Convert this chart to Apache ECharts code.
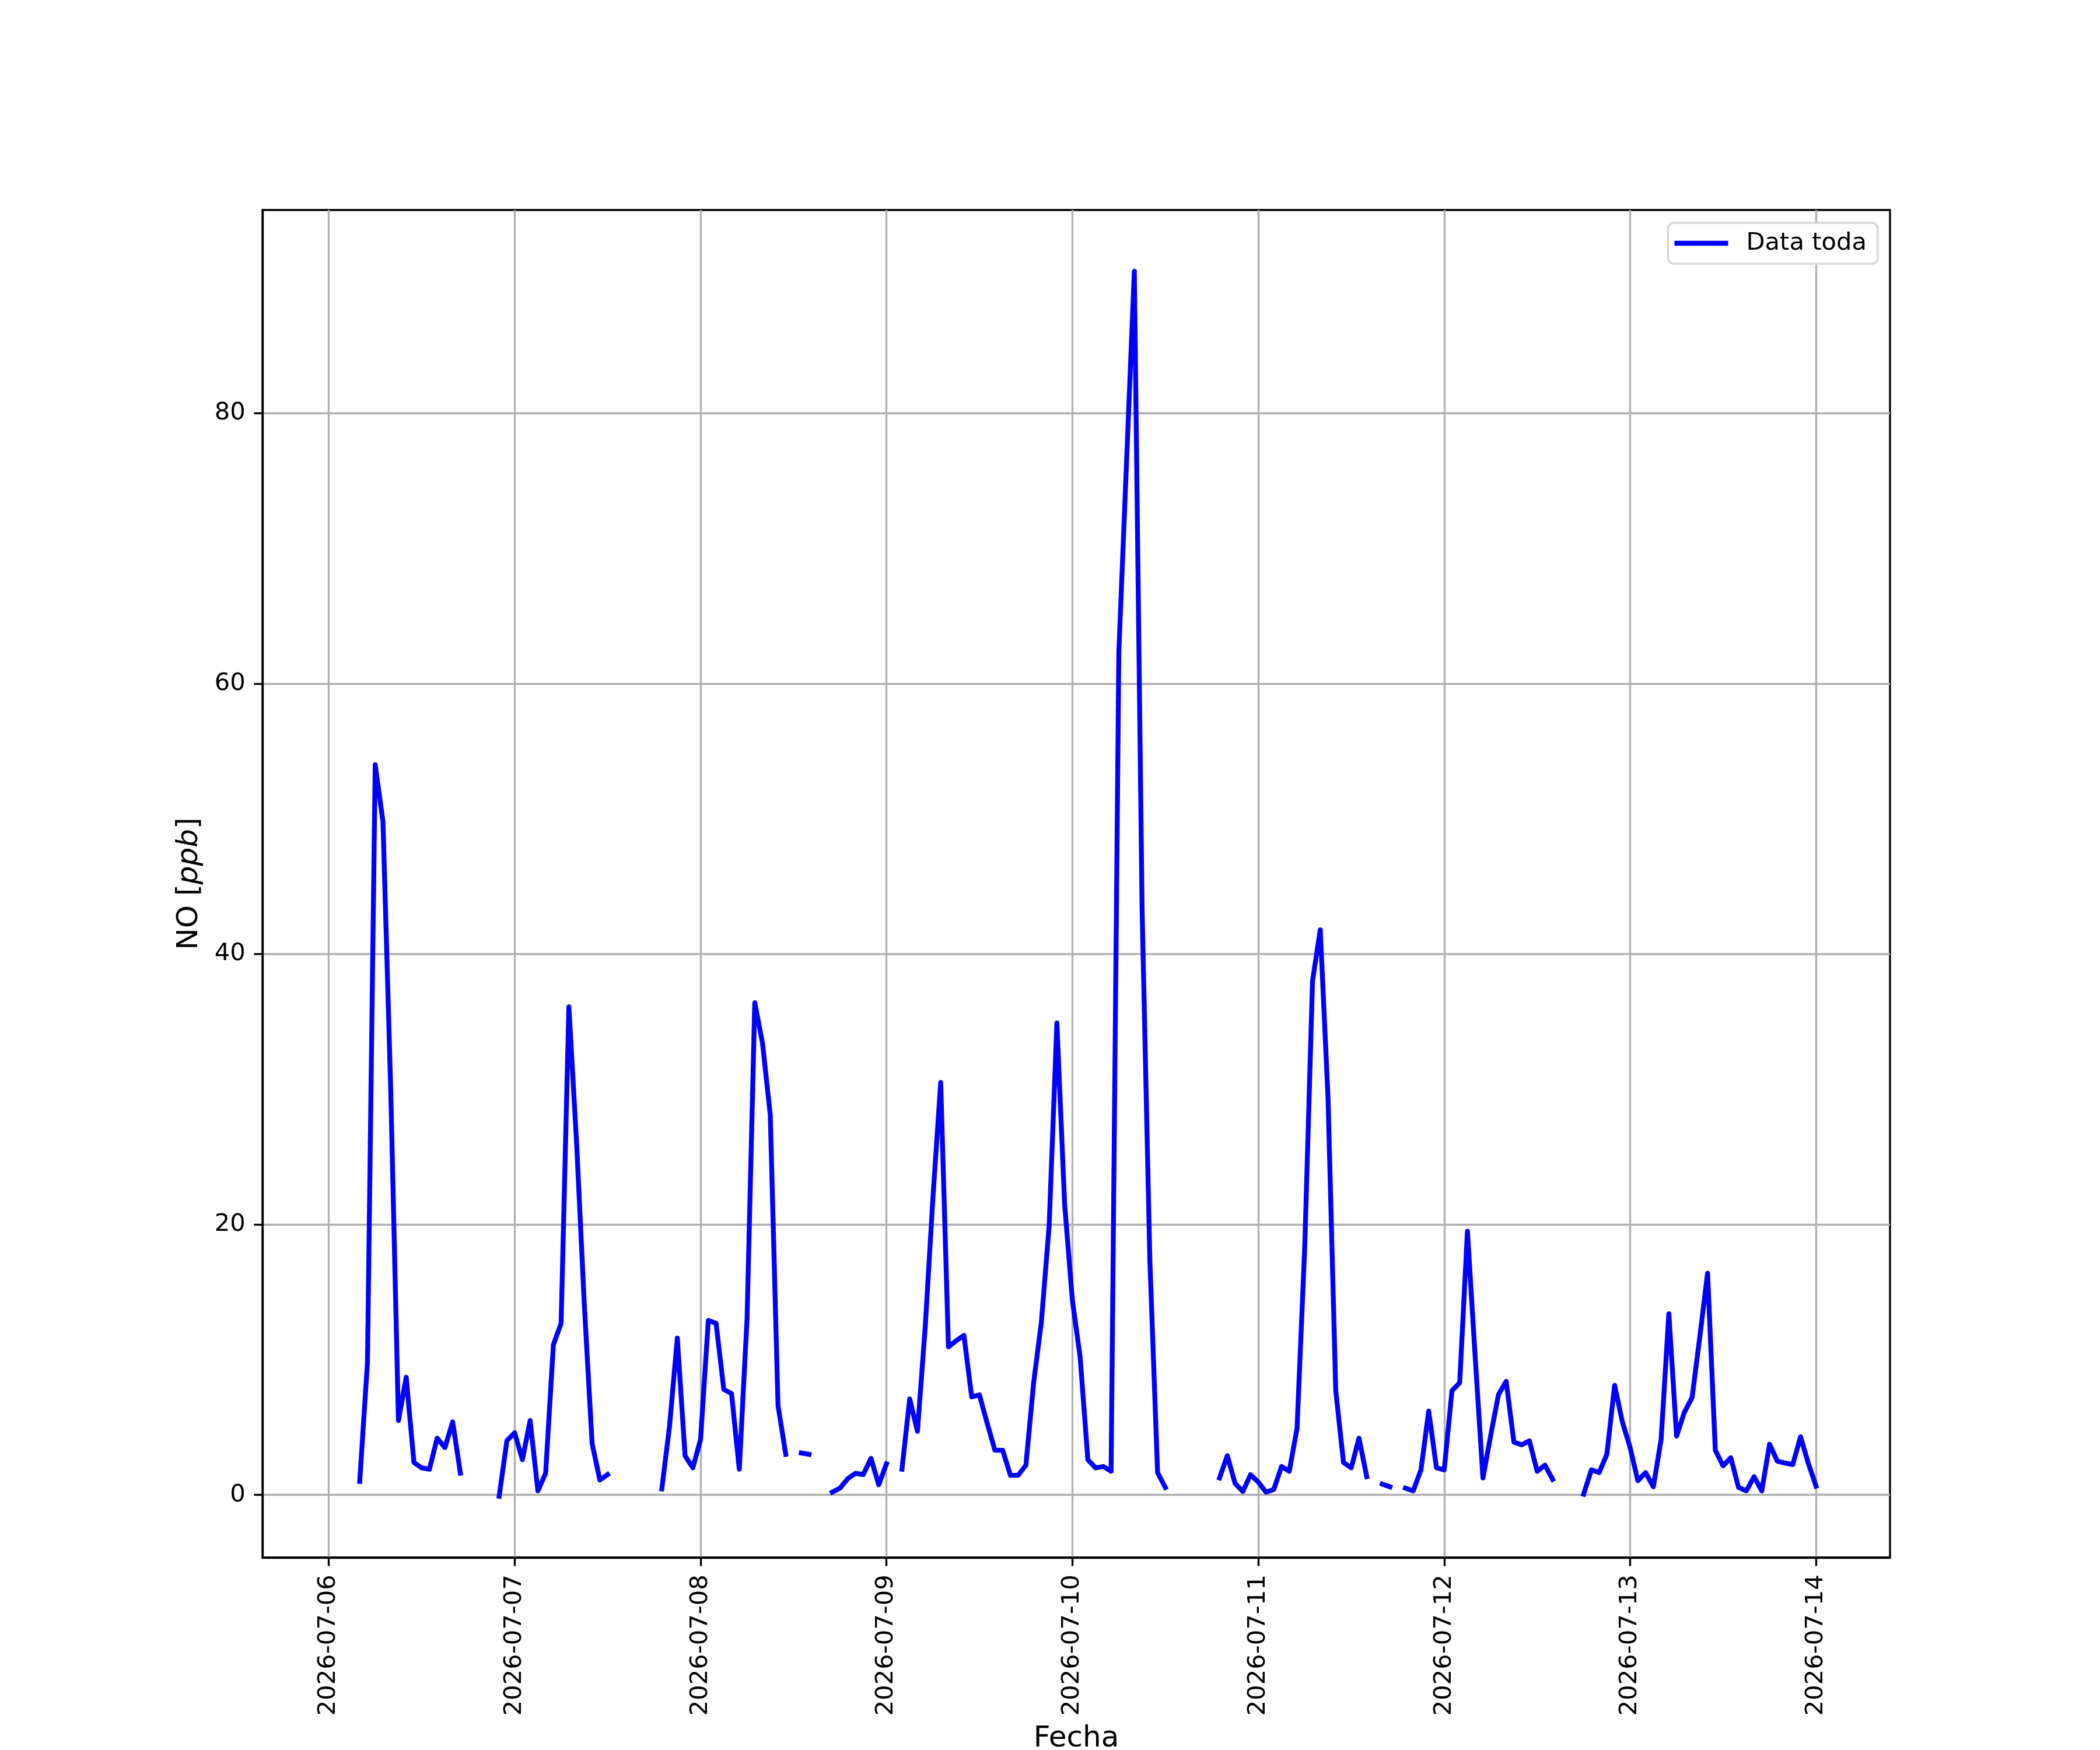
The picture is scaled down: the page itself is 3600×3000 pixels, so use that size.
<!DOCTYPE html>
<html>
<head>
<meta charset="utf-8">
<title>NO</title>
<script src="https://cdn.jsdelivr.net/npm/echarts@6/dist/echarts.min.js"></script>
<style>
    html, body { margin: 0; padding: 0; background: #fff; }
    #chart { width: 3600px; height: 3000px; }
</style>
</head>
<body>
<div id="chart"></div>
<script>
// dias (etiquetas del eje x)
var days = ['2026-07-06', '2026-07-07', '2026-07-08', '2026-07-09', '2026-07-10',
            '2026-07-11', '2026-07-12', '2026-07-13', '2026-07-14'];

// NO [ppb] por hora, 00h..23h de cada dia (null = sin dato)
var no_0706 = [null, null, null, null, 1.0, 9.8, 54.0, 49.8, 30.0, 5.5, 8.7, 2.4,
               2.0, 1.9, 4.2, 3.5, 5.4, 1.6, null, null, null, null, -0.1, 4.0];
var no_0707 = [4.6, 2.6, 5.5, 0.3, 1.6, 11.1, 12.7, 36.1, 26.0, 14.0, 3.8, 1.1,
               1.5, null, null, null, null, null, null, 0.45, 5.1, 11.6, 2.9, 2.0];
var no_0708 = [4.1, 12.9, 12.7, 7.8, 7.5, 1.9, 13.0, 36.4, 33.4, 28.1, 6.6, 3.0,
               null, 3.1, 3.0, null, null, 0.2, 0.5, 1.2, 1.6, 1.5, 2.7, 0.75];
var no_0709 = [2.3, null, 1.9, 7.1, 4.7, 12.4, 22.0, 30.5, 10.95, 11.4, 11.8, 7.25,
               7.4, 5.3, 3.3, 3.3, 1.45, 1.45, 2.2, 8.3, 12.8, 19.9, 34.9, 21.5];
var no_0710 = [14.4, 10.2, 2.6, 2.0, 2.1, 1.75, 62.4, 76.5, 90.5, 43.3, 17.4, 1.65,
               0.55, null, null, null, null, null, null, 1.25, 2.9, 0.85, 0.25, 1.5];
var no_0711 = [0.95, 0.2, 0.4, 2.1, 1.75, 4.9, 18.4, 38.0, 41.8, 29.4, 7.7, 2.4,
               2.0, 4.2, 1.35, null, 0.8, 0.6, null, 0.5, 0.3, 1.85, 6.2, 2.0];
var no_0712 = [1.85, 7.7, 8.3, 19.5, 10.2, 1.25, 4.4, 7.4, 8.4, 3.9, 3.7, 4.0,
               1.75, 2.2, 1.15, null, null, null, 0.05, 1.85, 1.65, 3.0, 8.1, 5.4];
var no_0713 = [3.5, 1.05, 1.65, 0.6, 4.1, 13.4, 4.35, 6.1, 7.2, 11.7, 16.4, 3.3,
               2.15, 2.75, 0.55, 0.3, 1.35, 0.3, 3.75, 2.5, 2.35, 2.25, 4.3, 2.35];
var no_0714 = [0.65];

var yTicks = [0, 20, 40, 60, 80];

var FONT = 'DejaVu Sans';
var PX = 300 / 72; // pt -> px a 300 dpi

// serie: x en horas desde 2026-07-06 00:00
var perDay = [no_0706, no_0707, no_0708, no_0709, no_0710, no_0711, no_0712, no_0713, no_0714];
var seriesData = [];
for (var d = 0; d < perDay.length; d++) {
    for (var h = 0; h < perDay[d].length; h++) {
        var v = perDay[d][h];
        seriesData.push([d * 24 + h, v == null ? '-' : v]);
    }
}
var xTicks = [];
for (var i = 0; i < days.length; i++) {
    xTicks.push(i * 24);
}

var chart = echarts.init(document.getElementById('chart'), null, {renderer: 'canvas', devicePixelRatio: 1});

var option = {
    backgroundColor: '#ffffff',
    animation: false,
    textStyle: { fontFamily: FONT },
    grid: {
        left: 450,
        right: 360,
        top: 360,
        bottom: 330,
        containLabel: false,
        outerBoundsMode: 'none',
        show: true,
        borderColor: '#000',
        borderWidth: 0.8 * PX,
        backgroundColor: 'transparent'
    },
    legend: {
        data: ['Data toda'],
        right: 381,
        top: 382,
        orient: 'vertical',
        icon: 'rect',
        itemWidth: 92,
        itemHeight: 2 * PX,
        backgroundColor: '#ffffff',
        borderColor: '#d6d6d6',
        borderWidth: 0.8 * PX,
        borderRadius: 10,
        padding: [14, 19, 14, 11],
        textStyle: {
            fontFamily: FONT,
            fontSize: 10 * PX,
            color: '#000',
            padding: [0, 0, 0, 26]
        }
    },
    xAxis: {
        type: 'value',
        min: -8.55,
        max: 201.55,
        name: 'Fecha',
        nameLocation: 'middle',
        nameGap: 286,
        nameTextStyle: { fontFamily: FONT, fontSize: 12 * PX, color: '#000' },
        axisLine: { show: true, onZero: false, lineStyle: { color: '#000', width: 0.8 * PX } },
        axisTick: {
            show: true,
            inside: false,
            length: 3.5 * PX,
            customValues: xTicks,
            lineStyle: { color: '#000', width: 0.8 * PX }
        },
        axisLabel: {
            show: true,
            rotate: 90,
            margin: 7 * PX,
            customValues: xTicks,
            fontFamily: FONT,
            fontSize: 10 * PX,
            color: '#000',
            formatter: function (value) {
                return days[Math.round(value / 24)] || '';
            }
        },
        splitLine: { show: true, lineStyle: { color: '#b0b0b0', width: 0.8 * PX } }
    },
    yAxis: {
        type: 'value',
        min: -4.63,
        max: 95.03,
        name: '{n|NO [}{i|ppb}{n|]}',
        nameLocation: 'middle',
        nameRotate: 90,
        nameGap: 100,
        nameTextStyle: {
            fontFamily: FONT,
            fontSize: 12 * PX,
            color: '#000',
            rich: {
                n: { fontFamily: FONT, fontSize: 12 * PX, color: '#000' },
                i: { fontFamily: FONT, fontSize: 12 * PX, fontStyle: 'italic', color: '#000' }
            }
        },
        axisLine: { show: true, onZero: false, lineStyle: { color: '#000', width: 0.8 * PX } },
        axisTick: {
            show: true,
            inside: false,
            length: 3.5 * PX,
            customValues: yTicks,
            lineStyle: { color: '#000', width: 0.8 * PX }
        },
        axisLabel: {
            show: true,
            margin: 7 * PX,
            customValues: yTicks,
            fontFamily: FONT,
            fontSize: 10 * PX,
            color: '#000'
        },
        splitLine: { show: true, lineStyle: { color: '#b0b0b0', width: 0.8 * PX } }
    },
    series: [{
        name: 'Data toda',
        type: 'line',
        data: seriesData,
        connectNulls: false,
        showSymbol: false,
        symbol: 'none',
        color: '#0000ff',
        lineStyle: { color: '#0000ff', width: 2 * PX, cap: 'square', join: 'round' },
        emphasis: { disabled: true }
    }]
};

chart.setOption(option);
</script>
</body>
</html>
